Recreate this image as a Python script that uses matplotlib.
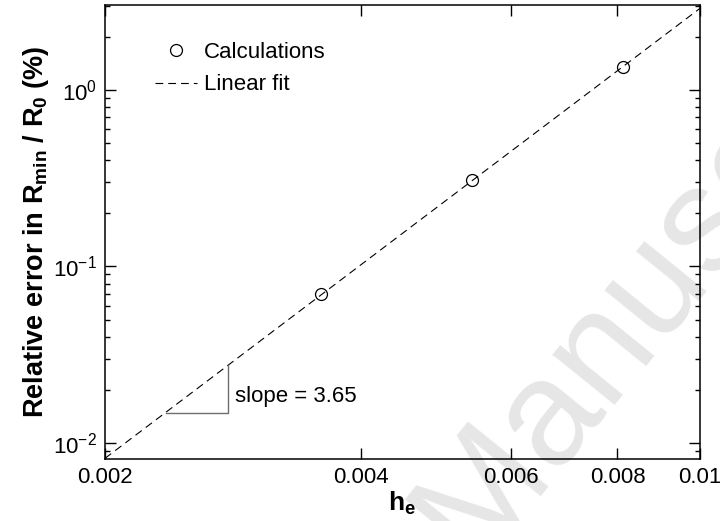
import numpy as np
import matplotlib
matplotlib.use("Agg")
import matplotlib.pyplot as plt
from matplotlib.ticker import FixedLocator, FixedFormatter, NullLocator, LogLocator

# data
h_e = [0.00359, 0.00540, 0.00812]
rel_err = [0.0696, 0.308, 1.355]

# linear fit in log-log space (slope 3.65)
fit_x = [0.002, 0.01]
fit_y = [0.00817, 2.90]

# slope triangle corners
tri_x = [0.00236, 0.00279, 0.00279]
tri_y = [0.01485, 0.01485, 0.0275]

xticks = [0.002, 0.004, 0.006, 0.008, 0.01]
xticklabels = ["0.002", "0.004", "0.006", "0.008", "0.01"]

plt.rcParams["font.family"] = ["Liberation Sans", "DejaVu Sans"]
plt.rcParams["mathtext.fontset"] = "custom"
plt.rcParams["mathtext.rm"] = "Liberation Sans"
plt.rcParams["mathtext.it"] = "Liberation Sans:italic"
plt.rcParams["mathtext.bf"] = "Liberation Sans:bold"

fig = plt.figure(figsize=(7.2, 5.21), dpi=100)
ax = fig.add_axes([0.1458, 0.119, 0.8264, 0.8714])
ax.set_facecolor("none")

# watermark behind everything
fig.text(0.54, -0.12, "Manuscript", fontsize=108, color="#e6e6e6",
         rotation=51, ha="left", va="bottom", zorder=-1)

ax.plot(fit_x, fit_y, color="black", lw=0.8, dashes=(7, 4.5), label="Linear fit")
ax.plot(h_e, rel_err, "o", mfc="none", mec="black", ms=8.6, mew=0.9,
        label="Calculations")
ax.plot(tri_x, tri_y, color="#6e6e6e", lw=1.0)

ax.set_xscale("log")
ax.set_yscale("log")
ax.set_xlim(0.002, 0.01)
ax.set_ylim(0.0081, 3.03)

ax.xaxis.set_major_locator(FixedLocator(xticks))
ax.xaxis.set_major_formatter(FixedFormatter(xticklabels))
ax.xaxis.set_minor_locator(NullLocator())
ax.yaxis.set_major_locator(LogLocator(base=10, numticks=10))
ax.yaxis.set_minor_locator(LogLocator(base=10, subs=np.arange(2, 10), numticks=10))

ax.tick_params(which="both", direction="in", top=True, right=True, width=1.0,
               labelsize=16)
ax.tick_params(which="major", length=8, pad=6)
ax.tick_params(which="minor", length=3.6)
for s in ax.spines.values():
    s.set_linewidth(1.1)

ax.text(0.00284, 0.0182, "slope = 3.65", fontsize=16, va="center", ha="left")

ax.set_xlabel(r"h$_\mathbf{e}$", fontsize=19, fontweight="bold", labelpad=1)
ax.set_ylabel(r"Relative error in R$_\mathbf{min}$ / R$_\mathbf{0}$ (%)",
              fontsize=19.5, fontweight="bold", labelpad=1)

handles, labels = ax.get_legend_handles_labels()
ax.legend(handles[::-1], labels[::-1], loc="upper left", frameon=False,
          bbox_to_anchor=(0.084, 0.918), borderpad=0, borderaxespad=0,
          handlelength=1.9, handletextpad=0.3, labelspacing=0.5, fontsize=16)

fig.savefig("out.png", dpi=100)
